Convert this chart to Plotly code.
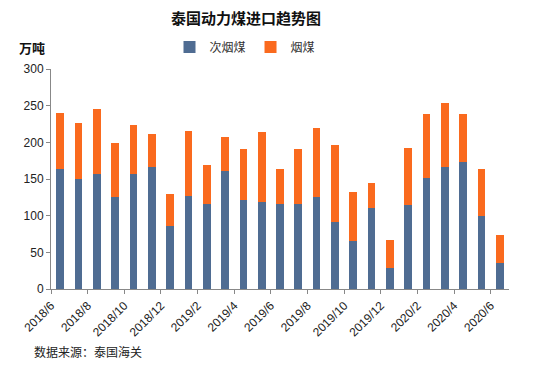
import plotly.graph_objects as go

months = ["2018/6", "2018/7", "2018/8", "2018/9", "2018/10", "2018/11", "2018/12",
          "2019/1", "2019/2", "2019/3", "2019/4", "2019/5", "2019/6", "2019/7",
          "2019/8", "2019/9", "2019/10", "2019/11", "2019/12", "2020/1", "2020/2",
          "2020/3", "2020/4", "2020/5", "2020/6"]
sub_bituminous = [163, 150, 157, 125, 157, 166, 86, 127, 116, 161, 121, 119, 116,
                  116, 126, 92, 65, 111, 28, 115, 151, 167, 173, 99, 35]
bituminous = [77, 77, 88, 74, 66, 45, 43, 89, 53, 46, 70, 95, 47,
              75, 93, 104, 67, 33, 39, 77, 87, 87, 65, 64, 39]
y_ticks = [0, 50, 100, 150, 200, 250, 300]

x = list(range(len(months)))
tick_pos = [i - 0.5 for i in x[::2]]
tick_text = months[::2]

font_cjk = "Liberation Sans, Noto Sans CJK SC, sans-serif"

fig = go.Figure()
fig.add_trace(go.Bar(x=x, y=sub_bituminous, name="次烟煤",
                     marker=dict(color="#4F6C92", line=dict(width=0)), width=0.42))
fig.add_trace(go.Bar(x=x, y=bituminous, name="烟煤",
                     marker=dict(color="#FA6A1E", line=dict(width=0)), width=0.42))

fig.update_layout(
    barmode="stack",
    width=558, height=371,
    margin=dict(l=51, r=49, t=69, b=82, autoexpand=False),
    paper_bgcolor="white", plot_bgcolor="white",
    font=dict(family=font_cjk, size=12, color="#222222"),
    title=dict(text="<b>泰国动力煤进口趋势图</b>", x=246/558, xanchor="center",
               y=1 - 19/371, yanchor="middle", font=dict(size=15, color="#111111")),
    legend=dict(orientation="h", x=245/558, xanchor="center", xref="container",
                y=1 - 47/371, yref="container", yanchor="middle",
                font=dict(size=12, color="#333333"), itemwidth=30,
                traceorder="normal", bgcolor="rgba(0,0,0,0)"),
    showlegend=True,
)
fig.update_xaxes(
    range=[-0.5, len(months) - 0.5],
    tickmode="array", tickvals=tick_pos, ticktext=tick_text,
    tickangle=-45, ticks="outside", ticklen=4, tickcolor="#888888",
    showline=True, linecolor="#888888", linewidth=1,
    showgrid=False, zeroline=False, automargin=False,
    tickfont=dict(size=12, color="#222222"),
)
fig.update_yaxes(
    range=[0, 300], tickvals=y_ticks,
    ticks="outside", ticklen=4, tickcolor="#888888",
    showline=True, linecolor="#888888", linewidth=1,
    showgrid=False, zeroline=False, automargin=False,
    tickfont=dict(size=12, color="#222222"),
)
fig.add_annotation(text="<b>万吨</b>", xref="paper", yref="paper",
                   x=-51/458 + 17/458, y=1 + 21/220, xanchor="left", yanchor="middle",
                   showarrow=False, font=dict(size=13, color="#111111"))
fig.add_annotation(text="数据来源：泰国海关", xref="paper", yref="paper",
                   x=-51/458 + 32/458, y=-(352 - 289) / 220, xanchor="left", yanchor="middle",
                   showarrow=False, font=dict(size=12, color="#222222"))

fig.write_html("out.html", config={"displayModeBar": False},
               post_script="document.body.style.margin='0px';")
